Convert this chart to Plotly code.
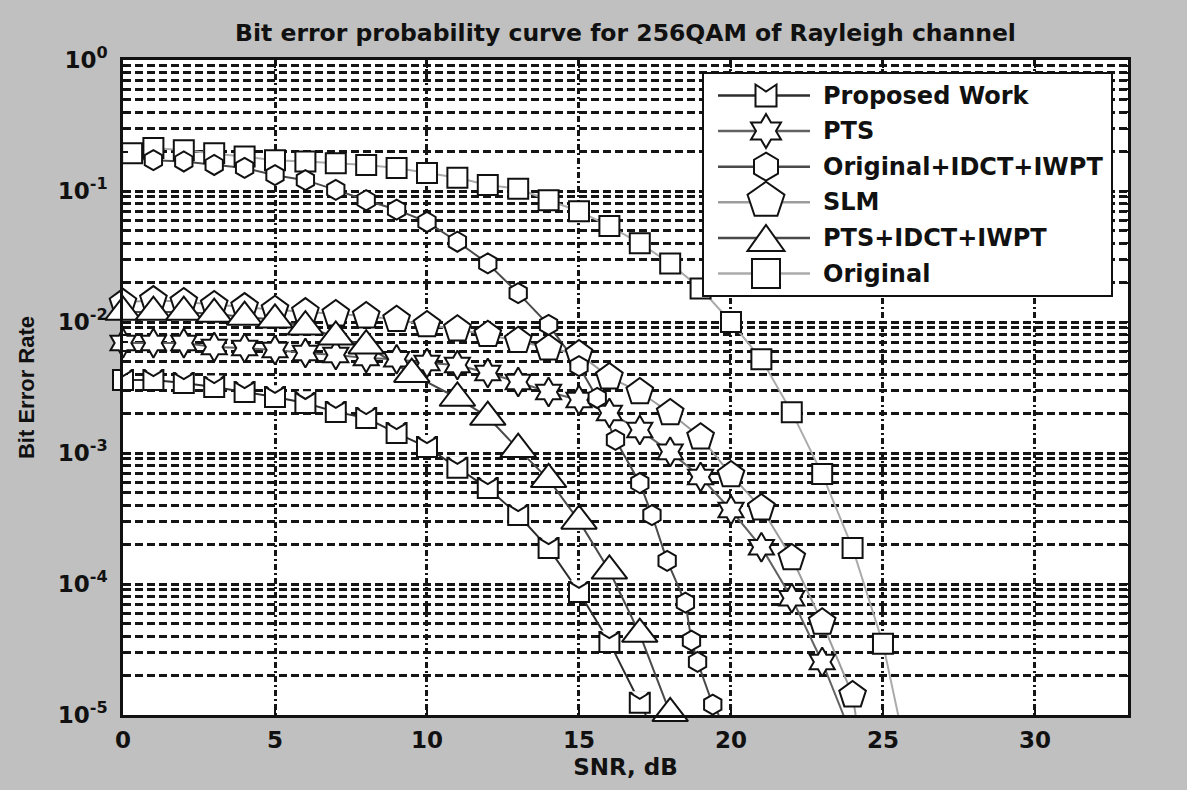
import math
import plotly.graph_objects as go

# ------------------------------------------------------------------ data
title_text = "Bit error probability curve for 256QAM of Rayleigh channel"
x_title = "SNR, dB"
y_title = "Bit Error Rate"

series_names = ["Proposed Work", "PTS", "Original+IDCT+IWPT", "SLM", "PTS+IDCT+IWPT", "Original"]

pw_x = [0, 1, 2, 3, 4, 5, 6, 7, 8, 9, 10, 11, 12, 13, 14, 15, 16, 17]
pw_y = [3.6e-3, 3.6e-3, 3.42e-3, 3.19e-3, 2.92e-3, 2.68e-3, 2.41e-3, 2.06e-3, 1.85e-3,
        1.42e-3, 1.11e-3, 7.7e-4, 5.4e-4, 3.36e-4, 1.88e-4, 8.7e-5, 3.6e-5, 1.24e-5]
pw_end = [17.2, 1e-5]

pts_x = [0, 1, 2, 3, 4, 5, 6, 7, 8, 9, 10, 11, 12, 13, 14, 15, 16, 17, 18, 19, 20, 21, 22, 23]
pts_y = [6.9e-3, 6.9e-3, 6.9e-3, 6.44e-3, 6.33e-3, 6.11e-3, 5.8e-3, 5.6e-3, 5.31e-3, 5.2e-3,
         4.86e-3, 4.7e-3, 4.08e-3, 3.48e-3, 2.92e-3, 2.54e-3, 2.02e-3, 1.5e-3, 1.02e-3,
         6.56e-4, 3.67e-4, 1.91e-4, 7.8e-5, 2.54e-5]
pts_end = [23.7, 1e-5]

oiw_x = [-0.2, 1, 2, 3, 4, 5, 6, 7, 8, 9, 10, 11, 12, 13, 14, 15, 15.6, 16.2, 17.0, 17.4,
         17.9, 18.5, 18.7, 18.9, 19.4]
oiw_y = [0.183, 0.172, 0.168, 0.158, 0.150, 0.132, 0.121, 0.102, 0.085, 0.072, 0.058, 0.041,
         0.028, 0.0166, 9.5e-3, 4.6e-3, 2.63e-3, 1.26e-3, 5.9e-4, 3.36e-4, 1.5e-4, 7.2e-5,
         3.7e-5, 2.54e-5, 1.2e-5]
oiw_end = [19.6, 1e-5]

slm_x = [0, 1, 2, 3, 4, 5, 6, 7, 8, 9, 10, 11, 12, 13, 14, 15, 16, 17, 18, 19, 20, 21, 22, 23, 24]
slm_y = [0.0140, 0.0147, 0.0142, 0.0135, 0.0130, 0.0124, 0.0119, 0.0115, 0.0111, 0.0104,
         9.5e-3, 8.8e-3, 8.0e-3, 7.2e-3, 6.3e-3, 5.7e-3, 3.8e-3, 2.92e-3, 2.02e-3, 1.32e-3,
         6.8e-4, 3.8e-4, 1.58e-4, 5.1e-5, 1.42e-5]
slm_end = [24.1, 1e-5]

piw_x = [0, 1, 2, 3, 4, 5, 6, 7, 8, 9.5, 11, 12, 13, 14, 15, 16, 17, 18]
piw_y = [0.0119, 0.0119, 0.0119, 0.0115, 0.0109, 0.0104, 9.2e-3, 7.7e-3, 6.6e-3, 4.0e-3,
         2.63e-3, 1.88e-3, 1.07e-3, 6.3e-4, 3.03e-4, 1.26e-4, 4.15e-5, 1.03e-5]
piw_end = [18.2, 1e-5]

org_x = [0.3, 1, 2, 3, 4, 5, 6, 7, 8, 9, 10, 11, 12, 13, 14, 15, 16, 17, 18, 19, 20, 21, 22, 23, 24, 25]
org_y = [0.194, 0.213, 0.205, 0.194, 0.183, 0.172, 0.168, 0.163, 0.158, 0.150, 0.137, 0.126,
         0.111, 0.104, 0.085, 0.070, 0.054, 0.040, 0.028, 0.018, 0.010, 5.2e-3, 2.05e-3,
         6.9e-4, 1.88e-4, 3.5e-5]
org_end = [25.5, 1e-5]

x_tick_vals = [0, 5, 10, 15, 20, 25, 30]
y_tick_exps = [-5, -4, -3, -2, -1, 0]

# ------------------------------------------------------------------ layout geometry
W, H = 1187, 790
ML, MR, MT, MB = 123, 59, 60, 75
PW, PH = W - ML - MR, H - MT - MB
FONT = "DejaVu Sans"
INK = "#111111"


def xp(px):
    return (px - ML) / PW


def yp(py):
    return (H - MB - py) / PH


def poly(pts):
    return "M" + " L".join(f"{a:.2f},{b:.2f}" for a, b in pts) + " Z"


styles = {
    "Proposed Work": dict(x=pw_x, y=pw_y, end=pw_end, symbol="square", size=20, color="#2e2e2e"),
    "PTS": dict(x=pts_x, y=pts_y, end=pts_end, symbol="hexagram", size=22, color="#626262"),
    "Original+IDCT+IWPT": dict(x=oiw_x, y=oiw_y, end=oiw_end, symbol="hexagon", size=20, color="#4a4a4a"),
    "SLM": dict(x=slm_x, y=slm_y, end=slm_end, symbol="pentagon", size=28, color="#9c9c9c"),
    "PTS+IDCT+IWPT": dict(x=piw_x, y=piw_y, end=piw_end, symbol="triangle-up", size=31, color="#4a4a4a"),
    "Original": dict(x=org_x, y=org_y, end=org_end, symbol="square", size=20, color="#ababab"),
}

fig = go.Figure()

# lines first
for name in series_names:
    s = styles[name]
    fig.add_trace(go.Scatter(
        x=list(s["x"]) + [s["end"][0]], y=list(s["y"]) + [s["end"][1]],
        mode="lines", line=dict(color=s["color"], width=2),
        name=name + " (curve)", showlegend=False, hoverinfo="skip"))

# markers, bottom to top
marker_order = ["Original", "SLM", "PTS", "PTS+IDCT+IWPT", "Original+IDCT+IWPT", "Proposed Work"]
for name in marker_order:
    s = styles[name]
    fig.add_trace(go.Scatter(
        x=s["x"], y=s["y"], mode="markers", name=name, showlegend=False, cliponaxis=False,
        marker=dict(symbol=s["symbol"], size=s["size"], color="white",
                    line=dict(color=INK, width=2))))

shapes = []
# notch on the Proposed Work squares
for xv, yv in zip(pw_x, pw_y):
    shapes.append(dict(type="path", xref="x", yref="y", xsizemode="pixel", ysizemode="pixel",
                       xanchor=xv, yanchor=yv, path="M-8.8,11.6 L8.8,11.6 L0,4 Z",
                       fillcolor="white", line=dict(width=0), layer="above"))
    shapes.append(dict(type="path", xref="x", yref="y", xsizemode="pixel", ysizemode="pixel",
                       xanchor=xv, yanchor=yv, path="M-10,10 L0,4 L10,10",
                       fillcolor="rgba(0,0,0,0)", line=dict(color=INK, width=2), layer="above"))

# ------------------------------------------------------------------ custom legend
box = (703, 73, 1112, 296)
shapes.append(dict(type="rect", xref="paper", yref="paper",
                   x0=xp(box[0]), x1=xp(box[2]), y0=yp(box[3]), y1=yp(box[1]),
                   fillcolor="white", line=dict(color=INK, width=2), layer="above"))


def hexagram(rx, ry):
    pts = []
    for k in range(12):
        ang = math.radians(90 - 30 * k)
        f = 1.0 if k % 2 == 0 else 1 / math.sqrt(3)
        pts.append((rx * f * math.cos(ang), ry * f * math.sin(ang)))
    return poly(pts)


def pentagon(rx, ry):
    pts = []
    for k in range(5):
        ang = math.radians(90 - 72 * k)
        pts.append((rx * math.cos(ang), ry * math.sin(ang) + ry * 0.095))
    return poly(pts)


glyphs = {
    "Proposed Work": poly([(-10.5, -11), (10.5, -11), (10.5, 11), (0, 4), (-10.5, 11)]),
    "PTS": hexagram(17.3, 17),
    "Original+IDCT+IWPT": poly([(0, 14), (12, 7), (12, -7), (0, -14), (-12, -7), (-12, 7)]),
    "SLM": pentagon(19.4, 18.8),
    "PTS+IDCT+IWPT": poly([(-18.5, -13), (18.5, -13), (0, 13)]),
    "Original": poly([(-14, -14.5), (14, -14.5), (14, 14.5), (-14, 14.5)]),
}

annotations = []
row0, row_step = 95.5, 35.6
for i, name in enumerate(series_names):
    ry = row0 + i * row_step
    s = styles[name]
    shapes.append(dict(type="line", xref="paper", yref="paper", x0=xp(718), x1=xp(810),
                       y0=yp(ry), y1=yp(ry), line=dict(color=s["color"], width=2.5), layer="above"))
    shapes.append(dict(type="path", xref="paper", yref="paper", xsizemode="pixel", ysizemode="pixel",
                       xanchor=xp(766), yanchor=yp(ry), path=glyphs[name],
                       fillcolor="white", line=dict(color=INK, width=2), layer="above"))
    annotations.append(dict(xref="paper", yref="paper", x=xp(821), y=yp(ry), xanchor="left",
                            yanchor="middle", showarrow=False, text=name,
                            font=dict(family=FONT, size=24, color=INK, weight="bold")))

# ------------------------------------------------------------------ axes
grid_col = "#151515"
minor_vals = [m * 10 ** e for e in range(-5, 0) for m in range(2, 10)]

fig.update_layout(
    width=W, height=H,
    margin=dict(l=ML, r=MR, t=MT, b=MB, pad=0),
    paper_bgcolor="#c0c0c0", plot_bgcolor="white",
    showlegend=False,
    title=dict(text=title_text, x=0.5, xref="paper", xanchor="center",
               y=1 - 33 / H, yref="container", yanchor="middle",
               font=dict(family=FONT, size=23.5, color=INK, weight="bold")),
    xaxis=dict(range=[0, 33.06], tickmode="array", tickvals=x_tick_vals,
               ticks="inside", ticklen=8, tickwidth=2, tickcolor=INK,
               showline=True, linecolor=INK, linewidth=2.5, mirror="ticks",
               showgrid=True, gridcolor=grid_col, gridwidth=2.5, griddash="6px,3px,2px,3px",
               zeroline=False, ticklabelstandoff=3,
               tickfont=dict(family=FONT, size=23, color=INK, weight="bold"),
               title=dict(text=x_title, standoff=7,
                          font=dict(family=FONT, size=23, color=INK, weight="bold"))),
    yaxis=dict(type="log", range=[-5, 0], tickmode="array",
               tickvals=[10 ** e for e in y_tick_exps],
               ticktext=[f"10<sup>{e}</sup>" for e in y_tick_exps],
               ticks="inside", ticklen=8, tickwidth=2, tickcolor=INK,
               showline=True, linecolor=INK, linewidth=2.5, mirror="ticks",
               showgrid=True, gridcolor=grid_col, gridwidth=2.5, griddash="8px,4px",
               minor=dict(tickmode="array", tickvals=minor_vals, ticks="inside", ticklen=5,
                          tickcolor=INK, tickwidth=1.5, showgrid=True, gridcolor=grid_col,
                          gridwidth=2.5, griddash="8px,4px"),
               ticklabelstandoff=8,
               tickfont=dict(family=FONT, size=23, color=INK, weight="bold"),
               title=dict(text=y_title, standoff=18,
                          font=dict(family="Liberation Sans", size=22, color=INK, weight="bold"))),
    shapes=shapes,
    annotations=annotations,
)

fig.write_html("out.html")
